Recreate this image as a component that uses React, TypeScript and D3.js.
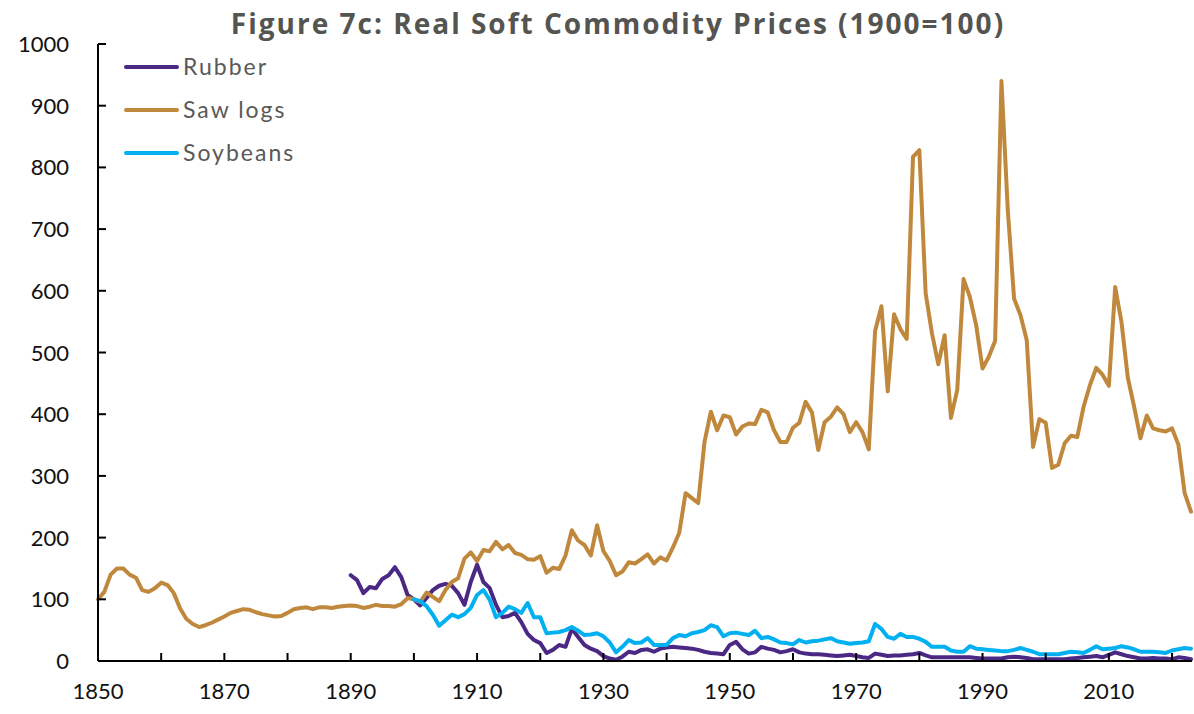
import React from 'react'
import * as d3 from 'd3'

const width = 1194
const height = 714

const sawStart = 1850
const sawLogs = [
  100, 112, 140, 150, 150, 140, 135, 115, 112, 118, 127, 123, 110, 85, 68, 60, 55, 58, 62, 67,
  72, 78, 81, 84, 83, 79, 76, 74, 72, 73, 78, 84, 86, 87, 84, 87, 87, 86, 88, 89,
  90, 89, 86, 88, 91, 89, 89, 88, 92, 102, 100, 96, 111, 104, 97, 115, 128, 134, 166, 176,
  162, 180, 178, 193, 181, 188, 175, 172, 165, 164, 170, 143, 151, 149, 171, 212, 195, 188, 171, 220,
  178, 162, 139, 145, 160, 158, 165, 173, 158, 168, 163, 184, 208, 272, 264, 256, 355, 404, 374, 398,
  395, 367, 380, 385, 384, 407, 403, 374, 355, 355, 378, 386, 420, 403, 342, 387, 396, 411, 400, 371,
  387, 371, 343, 535, 575, 437, 562, 538, 522, 817, 828, 596, 531, 481, 528, 394, 439, 619, 590, 544,
  474, 493, 519, 940, 731, 587, 561, 520, 347, 392, 386, 313, 318, 353, 365, 363, 412, 447, 475, 464,
  446, 606, 549, 459, 412, 361, 398, 377, 374, 372, 377, 351, 272, 242
]

const rubberStart = 1890
const rubber = [
  139, 131, 110, 120, 118, 133, 139, 152, 136, 107, 100, 90, 102, 115, 122, 125, 122, 110, 91, 128,
  156, 128, 118, 91, 71, 73, 78, 63, 44, 34, 29, 13, 18, 26, 23, 52, 39, 26, 20, 16,
  8, 4, 2, 7, 15, 13, 18, 19, 15, 20, 22, 23, 22, 21, 20, 18, 15, 13, 12, 11,
  26, 31, 19, 12, 14, 23, 20, 18, 14, 16, 19, 14, 12, 11, 11, 10, 9, 8, 9, 10,
  8, 6, 5, 12, 10, 8, 9, 9, 10, 11, 13, 9, 6, 6, 6, 6, 6, 6, 6, 5,
  4, 4, 4, 4, 6, 7, 6, 5, 3, 3, 3, 3, 3, 3, 4, 5, 6, 7, 8, 6,
  10, 14, 11, 8, 6, 4, 4, 5, 4, 4, 3, 6, 5, 3
]

const soyStart = 1900
const soybeans = [
  100, 97, 89, 75, 57, 66, 75, 71, 76, 86, 107, 115, 99, 71, 78, 88, 84, 78, 94, 71,
  71, 45, 46, 47, 50, 55, 49, 42, 43, 45, 40, 30, 14, 23, 34, 29, 30, 37, 26, 26,
  26, 37, 42, 40, 45, 47, 50, 58, 55, 40, 45, 46, 44, 42, 49, 37, 39, 35, 30, 29,
  27, 34, 30, 32, 33, 35, 37, 32, 30, 28, 29, 30, 32, 60, 52, 39, 36, 44, 39, 39,
  36, 31, 23, 23, 23, 17, 15, 15, 24, 20, 19, 18, 17, 16, 16, 18, 21, 18, 15, 11,
  11, 11, 11, 13, 15, 14, 13, 18, 24, 19, 20, 21, 24, 22, 19, 15, 15, 15, 14, 13,
  17, 19, 21, 20
]

const series = [
  { name: 'Rubber', start: rubberStart, values: rubber, color: '#4B2884' },
  { name: 'Saw logs', start: sawStart, values: sawLogs, color: '#C0883C' },
  { name: 'Soybeans', start: soyStart, values: soybeans, color: '#00B0F0' },
]

const yTicks = [0, 100, 200, 300, 400, 500, 600, 700, 800, 900, 1000]
const xTicks = [1850, 1870, 1890, 1910, 1930, 1950, 1970, 1990, 2010]
const xMinor = d3.range(1850, 2021, 10)

export default function App() {
  const x = d3.scaleLinear().domain([1850, 2023]).range([98, 1191])
  const y = d3.scaleLinear().domain([0, 1000]).range([661, 44])
  const font = 'Lato, "Open Sans", sans-serif'

  const line = d3.line<{ yr: number; v: number }>()
    .x(d => x(d.yr))
    .y(d => y(d.v))

  return (
    <svg width={width} height={height} style={{ position: 'absolute', left: 0, top: 0 }}>
      <rect width={width} height={height} fill="#fff" />
      <text x={618} y={34} textAnchor="middle" fontFamily='"Open Sans", sans-serif' fontWeight={700}
        fontSize={28} letterSpacing={2} fill="#545450">Figure 7c: Real Soft Commodity Prices (1900=100)</text>

      {series.map(s => (
        <path key={s.name}
          d={line(s.values.map((v, i) => ({ yr: s.start + i, v }))) || ''}
          fill="none" stroke={s.color} strokeWidth={4} strokeLinejoin="round" strokeLinecap="round" />
      ))}

      {/* axes */}
      <line x1={98} x2={98} y1={y(1000)} y2={y(0)} stroke="#000" strokeWidth={2} />
      <line x1={98} x2={1192} y1={y(0)} y2={y(0)} stroke="#000" strokeWidth={2} />
      {yTicks.map(t => (
        <g key={t}>
          <line x1={98} x2={106} y1={y(t)} y2={y(t)} stroke="#000" strokeWidth={2} />
          <text x={69} y={y(t) + 8} textAnchor="end" fontFamily={font} fontSize={22} fill="#111">{t}</text>
        </g>
      ))}
      {xMinor.map(t => (
        <line key={t} x1={x(t)} x2={x(t)} y1={y(0)} y2={y(0) - 8} stroke="#000" strokeWidth={2} />
      ))}
      {xTicks.map(t => (
        <text key={t} x={x(t)} y={699} textAnchor="middle" fontFamily={font} fontSize={22} fill="#111">{t}</text>
      ))}

      {/* legend */}
      {series.map((s, i) => (
        <g key={s.name} transform={`translate(0, ${67 + i * 43})`}>
          <line x1={126} x2={177} y1={0} y2={0} stroke={s.color} strokeWidth={4} strokeLinecap="round" />
          <text x={183} y={8} fontFamily={font} fontSize={23} fill="#595959" letterSpacing={2}>{s.name}</text>
        </g>
      ))}
    </svg>
  )
}
